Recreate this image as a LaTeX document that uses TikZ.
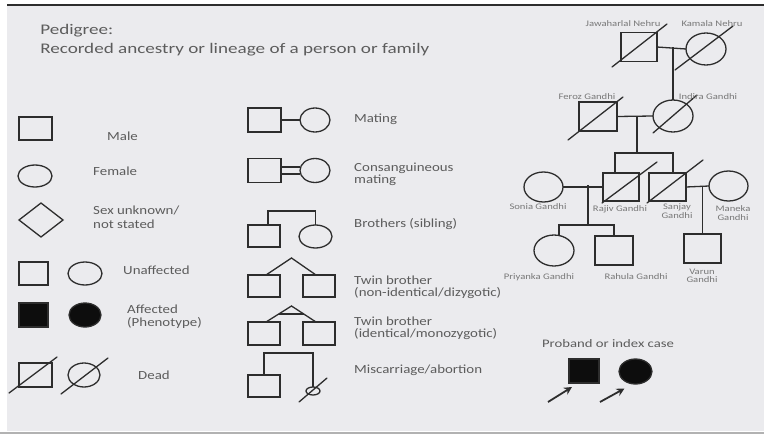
\documentclass[tikz,border=0pt]{standalone}
\usepackage{fontspec}
\setmainfont{Carlito}
\usetikzlibrary{shapes.geometric,calc,arrows.meta}
\definecolor{bg}{RGB}{235,235,238}
\definecolor{ink}{RGB}{45,45,45}
\definecolor{txt}{RGB}{92,92,92}
\definecolor{nametxt}{RGB}{120,120,120}

\begin{document}
\begin{tikzpicture}[x=1pt,y=-1pt,
  sym/.style={draw=ink, line width=1.3pt, inner sep=0pt, outer sep=0pt},
  sq/.style={sym, rectangle},
  fe/.style={sym, ellipse},
  aff/.style={fill=black!95},
  link/.style={draw=ink, line width=1.3pt},
  slash/.style={draw=ink, line width=1.3pt, line cap=round},
  lbl/.style={font=\fontsize{12.4}{14}\selectfont, text=txt, xscale=1.2, anchor=base west, inner sep=0pt},
  ttl/.style={font=\fontsize{14.7}{17}\selectfont, text=txt, xscale=1.3, anchor=base west, inner sep=0pt},
  nm/.style={font=\fontsize{8.5}{10}\selectfont, text=nametxt, xscale=1.25, inner sep=0pt},
  pb/.style={font=\fontsize{11.5}{13}\selectfont, text=txt, xscale=1.28, anchor=base, inner sep=0pt},
  pointer/.style={draw=ink, line width=1.8pt, -{Stealth[length=8pt,width=8pt]}}
]
\useasboundingbox (0,0) rectangle (764,434);
% slide background and rules
\fill[white] (0,0) rectangle (764,434);
\fill[bg] (7,6) rectangle (764,431);
\draw[ink, line width=2pt] (7,5) -- (764,5);
\fill[black!30] (0,432) rectangle (764,434);

% heading
\node[ttl] (h1) at (40,34) {Pedigree:};
\node[ttl] (h2) at (40,53) {Recorded ancestry or lineage of a person or family};

% ---------- basic symbols ----------
\node[sq, minimum width=33pt, minimum height=23pt] (male) at (35.5,128.5) {};
\node[lbl] (maleT) at (107,140) {Male};
\node[fe, minimum width=34pt, minimum height=22pt] (female) at (35,176) {};
\node[lbl] (femaleT) at (93,175) {Female};
\node[sym, diamond, minimum width=44pt, minimum height=34pt] (unk) at (41,220) {};
\node[lbl] (unkT1) at (93,214) {Sex unknown/};
\node[lbl] (unkT2) at (93,228) {not stated};

\node[sq, minimum width=29pt, minimum height=23pt] (unM) at (33.5,273.5) {};
\node[fe, minimum width=34pt, minimum height=23pt] (unF) at (85,273.5) {};
\node[lbl] (unT) at (123,274) {Unaffected};

\node[sq, aff, minimum width=29pt, minimum height=24pt] (afM) at (33.5,315) {};
\node[fe, aff, minimum width=32pt, minimum height=24pt] (afF) at (85,315) {};
\node[lbl] (afT1) at (127,313) {Affected};
\node[lbl] (afT2) at (127,326) {(Phenotype)};

\node[sq, minimum width=33pt, minimum height=24pt] (dM) at (35.5,375) {};
\draw[slash] ($(dM.center)+(-26.5,18)$) -- ($(dM.center)+(21.5,-18)$);
\node[fe, minimum width=32pt, minimum height=24pt] (dF) at (84,375) {};
\draw[slash] ($(dF.center)+(-23,19)$) -- ($(dF.center)+(24,-17)$);
\node[lbl] (dT) at (138,379) {Dead};

% ---------- relationship symbols ----------
% mating
\node[sq, minimum width=33pt, minimum height=24pt] (mM) at (264.5,120) {};
\node[fe, minimum width=30pt, minimum height=24pt] (mF) at (315,120) {};
\draw[link] (mM.east) -- (mF.west);
\node[lbl] (mT) at (354,122) {Mating};

% consanguineous mating
\node[sq, minimum width=33pt, minimum height=24pt] (cM) at (264.5,170.5) {};
\node[fe, minimum width=30pt, minimum height=24pt] (cF) at (315,170.5) {};
\draw[link] ([yshift=3.5pt]cM.east) -- ([yshift=3.5pt]cF.west);
\draw[link] ([yshift=-3.5pt]cM.east) -- ([yshift=-3.5pt]cF.west);
\node[lbl] (cT1) at (354,171) {Consanguineous};
\node[lbl] (cT2) at (354,183) {mating};

% siblings
\node[sq, minimum width=32pt, minimum height=22pt] (sb1) at (264,236) {};
\node[fe, minimum width=33pt, minimum height=23pt] (sb2) at (315.5,236.5) {};
\draw[link] ([xshift=4pt]sb1.north) -- ++(0,-14) -| (sb2.north);
\node[lbl] (sbT) at (354,227) {Brothers (sibling)};

% dizygotic twins
\node[sq, minimum width=32pt, minimum height=22pt] (dz1) at (264,286) {};
\node[sq, minimum width=32pt, minimum height=22pt] (dz2) at (319,286) {};
\coordinate (dzA) at (291.5,258);
\draw[link] ([xshift=2pt]dz1.north) -- (dzA) -- ([xshift=-3pt]dz2.north);
\node[lbl] (dzT1) at (354,284) {Twin brother};
\node[lbl] (dzT2) at (354,296) {(non-identical/dizygotic)};

% monozygotic twins
\node[sq, minimum width=32pt, minimum height=23pt] (mz1) at (264,333.5) {};
\node[sq, minimum width=32pt, minimum height=23pt] (mz2) at (319,333.5) {};
\coordinate (mzA) at (291.5,306);
\draw[link] ([xshift=2pt]mz1.north) -- (mzA) -- ([xshift=-3pt]mz2.north);
\draw[link] ($(mzA)!0.5!([xshift=2pt]mz1.north)$) -- ($(mzA)!0.5!([xshift=-3pt]mz2.north)$);
\node[lbl] (mzT1) at (354,325) {Twin brother};
\node[lbl] (mzT2) at (354,337) {(identical/monozygotic)};

% miscarriage
\node[sq, minimum width=32pt, minimum height=22pt] (msq) at (264,386) {};
\node[fe, minimum width=14pt, minimum height=8pt] (mis) at (313,391) {};
\draw[link] (msq.north) -- ++(0,-22) -| (mis.north);
\draw[slash] ($(mis.center)+(-14,11)$) -- ($(mis.center)+(14,-13)$);
\node[lbl] (misT) at (354,373) {Miscarriage/abortion};

% ---------- family pedigree ----------
\node[sq, minimum width=36pt, minimum height=29pt] (J) at (639,47) {};
\draw[slash] ($(J.center)+(-27,20)$) -- ($(J.center)+(28,-23)$);
\node[fe, minimum width=40pt, minimum height=32pt] (K) at (706,49) {};
\draw[slash] ($(K.center)+(-31,21)$) -- ($(K.center)+(27,-23)$);
\node[nm] (Jn) at (623,24) {Jawaharlal Nehru};
\node[nm] (Kn) at (712,24) {Kamala Nehru};

\node[sq, minimum width=38pt, minimum height=29pt] (F) at (598,116.5) {};
\draw[slash] ($(F.center)+(-30,23.5)$) -- ($(F.center)+(25,-19.5)$);
\node[fe, minimum width=40pt, minimum height=32pt] (I) at (673,116) {};
\draw[slash] ($(I.center)+(-20,17)$) -- ($(I.center)+(24,-21)$);
\node[nm] (Fn) at (587,97) {Feroz Gandhi};
\node[nm] (In) at (708,97) {Indira Gandhi};

\draw[link] (J.east) -- (K.west);
\draw[link] (I.north |- J.east) -- (I.north);
\draw[link] (F.east) -- (I.west);

\node[sq, minimum width=36pt, minimum height=28pt] (R) at (621,187) {};
\node[sq, minimum width=37pt, minimum height=28pt] (S) at (667.5,187) {};
\coordinate (sibTop) at (637,117);
\draw[link] (sibTop) -- (637,153);
\draw[link] ([xshift=-6pt]R.north) -- ++(0,-20) -| ([xshift=5.5pt]S.north);
\draw[slash] ($(R.center)+(-19,16)$) -- ($(R.center)+(36,-25)$);
\draw[slash] ($(S.center)+(-20.5,16)$) -- ($(S.center)+(35.5,-27)$);

\node[fe, minimum width=39pt, minimum height=30pt] (So) at (543.5,187) {};
\node[fe, minimum width=39pt, minimum height=30pt] (Ma) at (728.5,186) {};
\draw[link] (So.east) -- (R.west);
\draw[link] (S.east) -- (Ma.west);

\node[nm] (Son) at (538,207) {Sonia Gandhi};
\node[nm] (Rn) at (620,209) {Rajiv Gandhi};
\node[nm] (Sn1) at (677,207) {Sanjay};
\node[nm] (Sn2) at (677,216) {Gandhi};
\node[nm] (Man1) at (733,209) {Maneka};
\node[nm] (Man2) at (733,218) {Gandhi};

\node[fe, minimum width=40pt, minimum height=31pt] (P) at (554,250.5) {};
\node[sq, minimum width=38pt, minimum height=29pt] (Ra) at (614,250.5) {};
\node[sq, minimum width=37pt, minimum height=29pt] (V) at (702.5,248.5) {};
\coordinate (kidsTop) at (588,185);
\draw[link] (kidsTop) -- (588,225);
\draw[link] ([xshift=5pt]P.north) -- ++(0,-10) -| (Ra.north);
\draw[link] (V.north |- S.east) -- (V.north);

\node[nm] (Pn) at (539,277) {Priyanka Gandhi};
\node[nm] (Ran) at (636,277) {Rahula Gandhi};
\node[nm] (Vn1) at (702,272) {Varun};
\node[nm] (Vn2) at (702,280) {Gandhi};

% ---------- proband ----------
\node[pb] (pbT) at (608,347) {Proband or index case};
\node[sq, aff, minimum width=30pt, minimum height=24pt] (pbM) at (584,371) {};
\node[fe, aff, minimum width=33pt, minimum height=25pt] (pbF) at (635.5,371.5) {};
\coordinate (ar1) at (548,402);
\coordinate (ar2) at (600,402);
\draw[pointer] (ar1) -- ([shift={(3,4)}]pbM.south west);
\draw[pointer] (ar2) -- ($(pbF.center)+(-11,17)$);
\end{tikzpicture}
\end{document}
